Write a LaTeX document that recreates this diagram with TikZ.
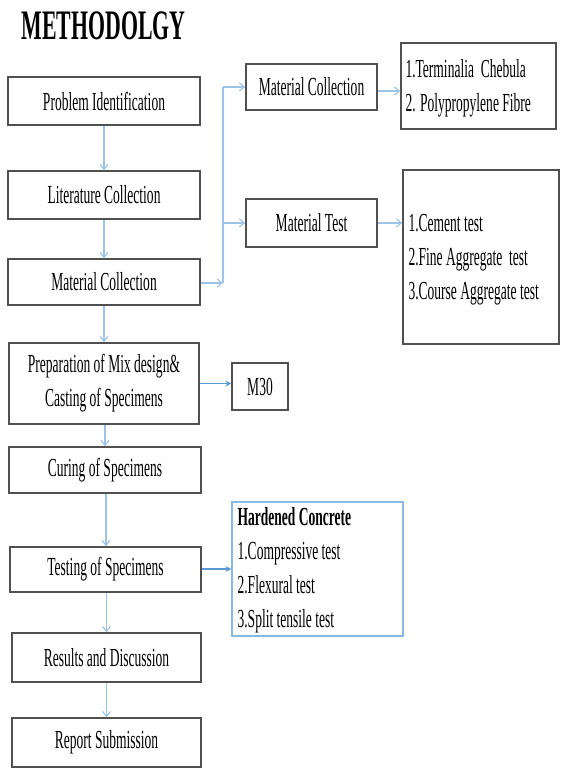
\documentclass[tikz,border=0pt]{standalone}
\usepackage{fontspec}
\setmainfont{Liberation Serif}[FakeStretch=0.52]
\usetikzlibrary{arrows.meta}
\definecolor{boxgray}{HTML}{505050}
\definecolor{lineblue}{HTML}{9DC3E6}
\definecolor{darkblue}{HTML}{5B9BD5}
\tikzset{
  stepbox/.style={draw=boxgray, line width=1.4pt, minimum width=#1, inner sep=0pt, align=center,
     font=\fontsize{26}{34}\selectfont},
  listbox/.style={draw=boxgray, line width=1.4pt, inner sep=0pt},
  listtext/.style={anchor=west, inner sep=0pt, align=left, font=\fontsize{26}{34}\selectfont},
  flow/.style={draw=lineblue, line width=1.1pt, -{Straight Barb[length=5pt,width=8pt]}},
  plain/.style={draw=lineblue, line width=1.1pt},
  flowdark/.style={draw=darkblue, line width=1.4pt, -{Stealth[length=6pt,width=6pt]}},
}
\begin{document}
\begin{tikzpicture}[x=1pt,y=-1pt]
\useasboundingbox (0,0) rectangle (560,768);
\fill[white] (0,0) rectangle (560,768);
% title
\node[font=\fontsize{42}{44}\selectfont\bfseries, anchor=west] (title) at (18,26) {METHODOLGY};
% main column
\node[stepbox=192pt, minimum height=48pt] (prob) at (104,101) {Problem Identification};
\node[stepbox=192pt, minimum height=48pt] (lit) at (104,195) {Literature Collection};
\node[stepbox=192pt, minimum height=46pt] (mc) at (104,282) {Material Collection};
\node[stepbox=190pt, minimum height=81pt] (prep) at (104,383.5) {Preparation of Mix design\&\\Casting of Specimens};
\node[stepbox=192pt, minimum height=46pt] (cur) at (105,470) {Curing of Specimens};
\node[stepbox=191pt, minimum height=45pt] (test) at (105.5,569.5) {Testing of Specimens};
\node[stepbox=189pt, minimum height=49pt] (res) at (106.5,657.5) {Results and Discussion};
\node[stepbox=189pt, minimum height=49pt] (rep) at (106.5,742.5) {Report Submission};
% right branches
\node[stepbox=131pt, minimum height=46pt] (mcr) at (311.5,87) {Material Collection};
\node[stepbox=131pt, minimum height=48pt] (mt) at (311.5,223) {Material Test};
\node[listbox, minimum width=155pt, minimum height=86pt] (term) at (478.5,86) {};
\node[listtext] (termtxt) at ([xshift=5pt,yshift=-2pt]term.west)
  {1.Terminalia\ \ Chebula\\2. Polypropylene Fibre};
\node[listbox, minimum width=156pt, minimum height=174pt] (tests) at (481,257) {};
\node[listtext] (teststxt) at ([xshift=6pt,yshift=-3pt]tests.west)
  {1.Cement test\\2.Fine Aggregate\ \ test\\3.Course Aggregate test};
\node[stepbox=56pt, minimum height=47pt] (m30) at (260,386.5) {M30};
\node[listbox, draw=darkblue!70, line width=1.2pt, minimum width=171pt, minimum height=134pt] (hard) at (317.5,569) {};
\node[listtext] (hardtxt) at ([xshift=6pt,yshift=-1pt]hard.west)
  {\textbf{Hardened Concrete}\\1.Compressive test\\2.Flexural test\\3.Split tensile test};
% connectors
\draw[flow] (prob.south) -- (prob.south |- lit.north);
\draw[flow] (lit.south) -- (lit.south |- mc.north);
\draw[flow] (mc.south) -- (mc.south |- prep.north);
\draw[flow] ([xshift=1pt]prep.south) -- ([xshift=1pt]prep.south |- cur.north);
\draw[flow] ([xshift=1pt]cur.south) -- ([xshift=1pt]cur.south |- test.north);
\draw[flow] ([xshift=1pt]test.south) -- ([xshift=1pt]test.south |- res.north);
\draw[flow] (res.south) -- (res.south |- rep.north);
\coordinate (split) at (223,283);
\coordinate (top) at (223,87);
\draw[flow] (mc.east |- split) -- (split);
\draw[plain] (split) -- (top);
\draw[flow] (top) -- (mcr.west);
\draw[flow] (top |- mt.west) -- (mt.west);
\draw[flow] ([yshift=-4pt]mcr.east) -- ([yshift=-4pt]mcr.east -| term.west);
\draw[flow] (mt.east) -- (mt.east -| tests.west);
\draw[flowdark] (prep.east) -- (prep.east -| m30.west);
\draw[flowdark] ([yshift=0.5pt]test.east) -- ([yshift=0.5pt]test.east -| hard.west);
\end{tikzpicture}
\end{document}
